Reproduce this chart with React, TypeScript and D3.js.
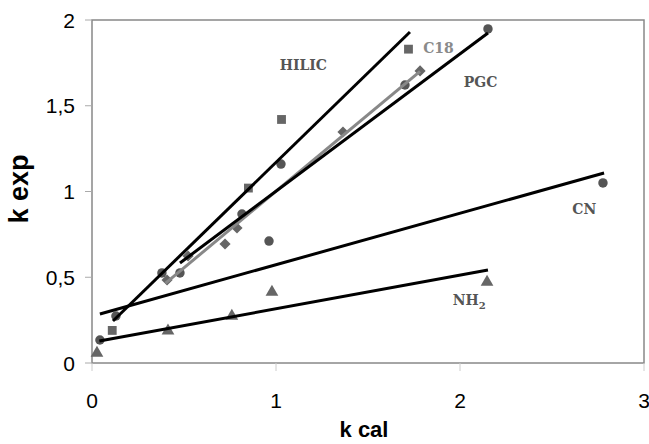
import React from "react";
import * as d3 from "d3";

// k cal / k exp values
const hilicX = [0.11, 0.85, 1.03, 1.72];
const hilicY = [0.19, 1.02, 1.42, 1.83];
const hilicFitX = [0.114, 1.728];
const hilicFitY = [0.245, 1.93];

const c18X = [0.408, 0.522, 0.723, 0.788, 1.364, 1.783];
const c18Y = [0.484, 0.624, 0.694, 0.787, 1.347, 1.703];
const c18FitX = [0.4, 1.783];
const c18FitY = [0.466, 1.7];

const pgcX = [0.38, 0.478, 0.815, 1.027, 1.701, 2.152];
const pgcY = [0.525, 0.525, 0.869, 1.16, 1.621, 1.948];
const pgcFitX = [0.478, 2.152];
const pgcFitY = [0.583, 1.924];

const cnX = [0.043, 0.13, 0.962, 2.777];
const cnY = [0.134, 0.274, 0.711, 1.05];
const cnFitX = [0.043, 2.783];
const cnFitY = [0.286, 1.108];

const nh2X = [0.027, 0.413, 0.76, 0.978, 2.147];
const nh2Y = [0.058, 0.187, 0.274, 0.414, 0.472];
const nh2FitX = [0.04, 2.152];
const nh2FitY = [0.128, 0.542];

const xTicks = [0, 1, 2, 3];
const yTicks = [0, 0.5, 1, 1.5, 2];

const width = 649;
const height = 444;
const margin = { top: 20, right: 5, bottom: 81, left: 92 };

const zip = (xs: number[], ys: number[]) => xs.map((x, i) => [x, ys[i]] as [number, number]);

const App = () => {
  const x = d3.scaleLinear().domain([0, 3]).range([margin.left, width - margin.right]);
  const y = d3.scaleLinear().domain([0, 2]).range([height - margin.bottom, margin.top]);
  const line = d3.line<[number, number]>().x((d) => x(d[0])).y((d) => y(d[1]));

  const symbol = (type: d3.SymbolType, size: number) => d3.symbol().type(type).size(size)() || "";
  const sq = symbol(d3.symbolSquare, 78);
  const circ = symbol(d3.symbolCircle, 70);
  const tri = symbol(d3.symbolTriangle, 70);
  const dia = symbol(d3.symbolSquare, 62);

  const markers = (xs: number[], ys: number[], path: string, fill: string, rot = 0) =>
    zip(xs, ys).map((d, i) => (
      <path
        key={i}
        d={path}
        fill={fill}
        transform={`translate(${x(d[0])},${y(d[1])}) rotate(${rot})`}
      />
    ));

  const labelStyle = { fontFamily: "DejaVu Serif", fontWeight: "bold" as const, fontSize: 14 };
  const tickFont = { fontFamily: "Liberation Sans, Arial, sans-serif", fontSize: 21 };

  return (
    <svg width={width} height={height} style={{ position: "absolute", left: 0, top: 0, background: "#fff" }}>
      {/* plot frame */}
      <rect
        x={x(0)}
        y={y(2)}
        width={x(3) - x(0)}
        height={y(0) - y(2)}
        fill="none"
        stroke="#888"
        strokeWidth={1.5}
      />
      {/* y ticks */}
      {yTicks.map((t) => (
        <g key={t}>
          <line x1={x(0) - 7} x2={x(0)} y1={y(t)} y2={y(t)} stroke="#aaa" />
          <text x={75} y={y(t) + 7.5} textAnchor="end" style={tickFont}>
            {String(t).replace(".", ",")}
          </text>
        </g>
      ))}
      {/* x ticks */}
      {xTicks.map((t) => (
        <g key={t}>
          <line x1={x(t)} x2={x(t)} y1={y(0)} y2={y(0) + 8} stroke="#ccc" />
          <text x={x(t)} y={408} textAnchor="middle" style={tickFont}>
            {t}
          </text>
        </g>
      ))}
      <text x={364} y={437} textAnchor="middle" style={{ ...tickFont, fontSize: 22, fontWeight: "bold" }}>
        k cal
      </text>
      <text
        transform="translate(28,189) rotate(-90)"
        textAnchor="middle"
        style={{ ...tickFont, fontSize: 27, fontWeight: "bold" }}
      >
        k exp
      </text>

      {/* markers */}
      {markers(nh2X, nh2Y, tri, "#666")}
      {markers(cnX, cnY, circ, "#555")}
      {markers(pgcX, pgcY, circ, "#555")}
      {markers(c18X, c18Y, dia, "#666", 45)}
      {markers(hilicX, hilicY, sq, "#666")}

      {/* fitted lines */}
      <path d={line(zip(nh2FitX, nh2FitY)) || ""} stroke="#000" strokeWidth={3} fill="none" />
      <path d={line(zip(cnFitX, cnFitY)) || ""} stroke="#000" strokeWidth={3} fill="none" />
      <path d={line(zip(c18FitX, c18FitY)) || ""} stroke="#888" strokeWidth={3} fill="none" />
      <path d={line(zip(pgcFitX, pgcFitY)) || ""} stroke="#000" strokeWidth={3} fill="none" />
      <path d={line(zip(hilicFitX, hilicFitY)) || ""} stroke="#000" strokeWidth={3} fill="none" />

      {/* series labels */}
      <text x={x(1.02)} y={y(1.71)} fill="#555" style={labelStyle}>HILIC</text>
      <text x={x(1.8)} y={y(1.81)} fill="#8a8a8a" style={labelStyle}>C18</text>
      <text x={x(2.02)} y={y(1.61)} fill="#555" style={labelStyle}>PGC</text>
      <text x={x(2.61)} y={y(0.87)} fill="#555" style={labelStyle}>CN</text>
      <text x={x(1.96)} y={y(0.34)} fill="#555" style={labelStyle}>
        NH<tspan fontSize={10} dy={4}>2</tspan>
      </text>
    </svg>
  );
};

export default App;
